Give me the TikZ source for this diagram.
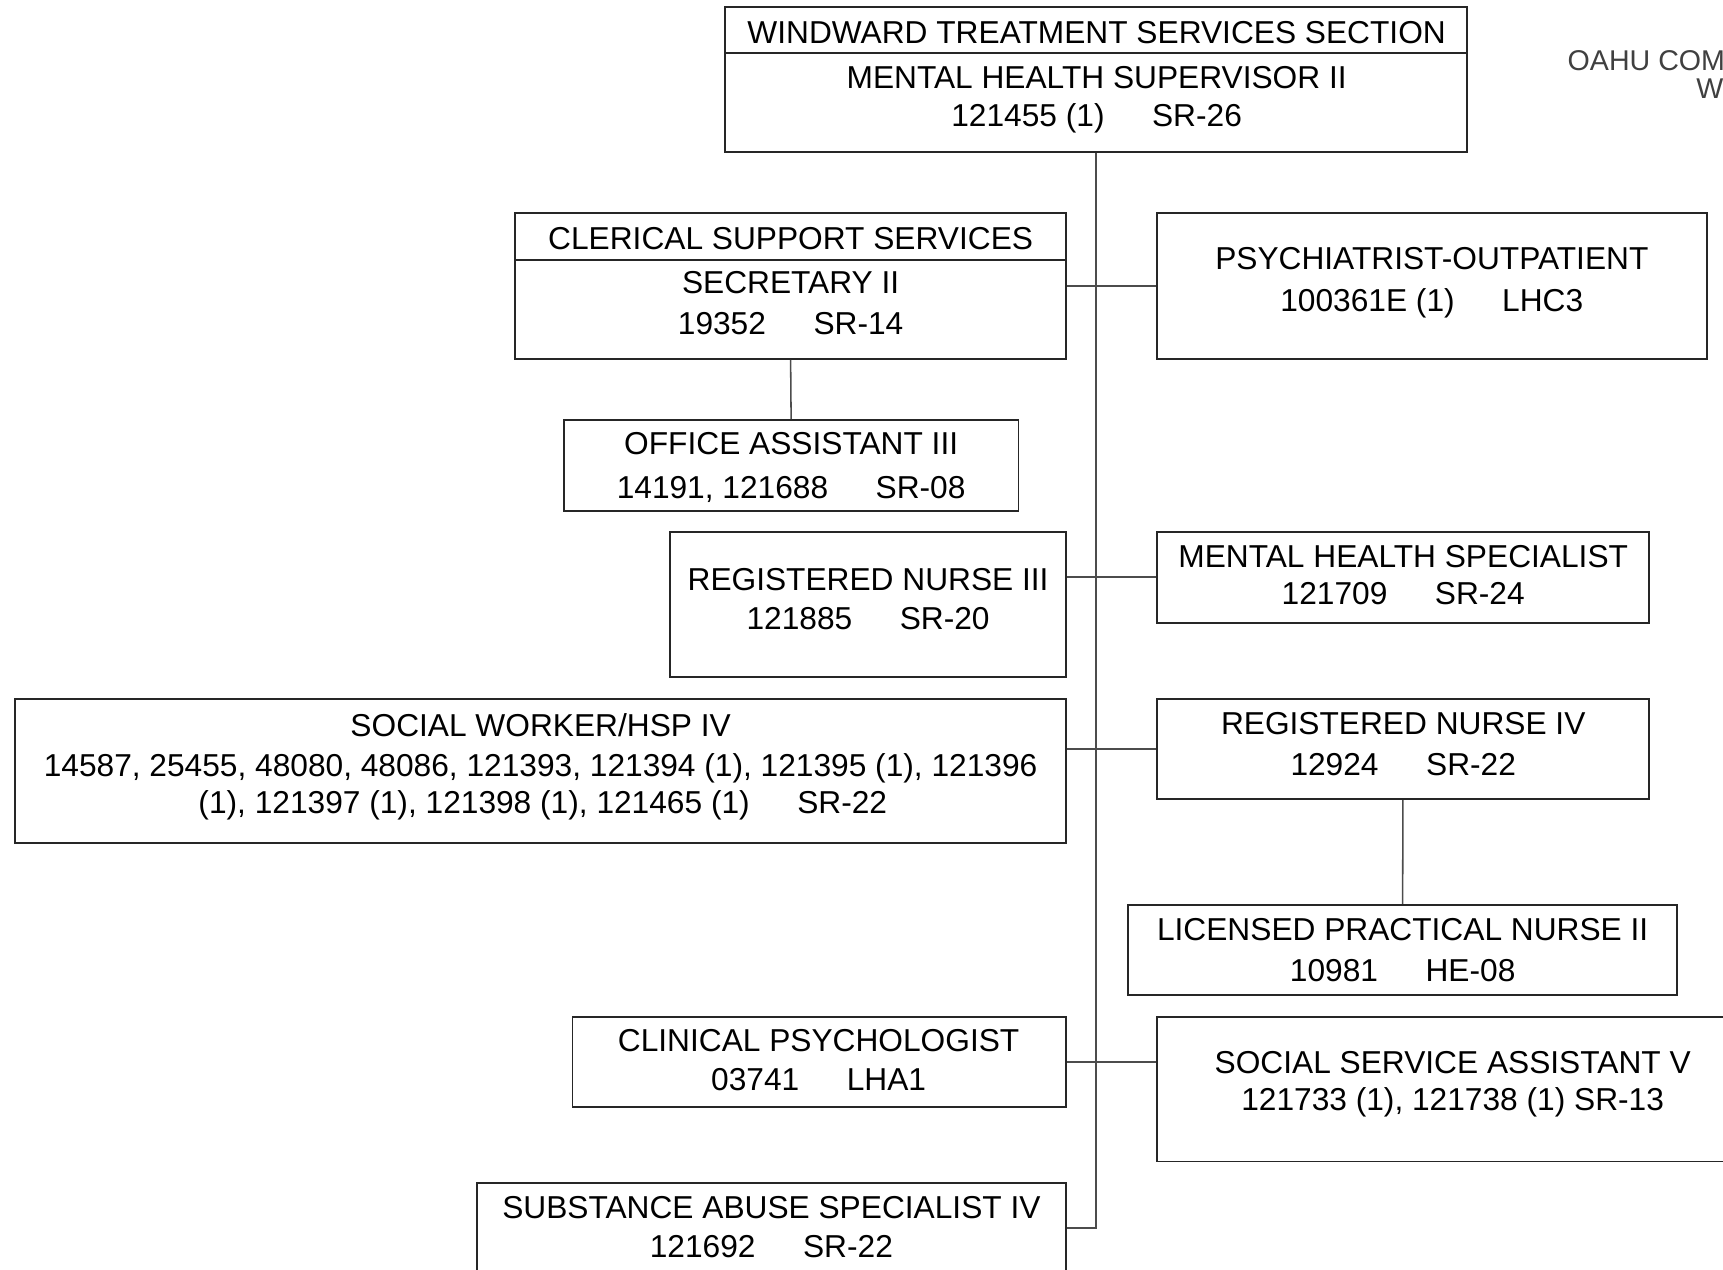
\documentclass[tikz,border=0pt]{standalone}
\usepackage{fontspec}
\setmainfont{Liberation Sans}
\usetikzlibrary{positioning}
\usetikzlibrary{fit}

\newcommand{\tabgap}{\hspace{1.5em}}

\begin{document}
\begin{tikzpicture}[x=0.01cm, y=-0.01cm,
box/.style={draw=black!85, line width=0.5pt, inner sep=0pt},
link/.style={draw=black!70, line width=0.4pt},
txt/.style={anchor=base, inner sep=0pt, font=\fontsize{8.2}{9.8}\selectfont},
head/.style={anchor=base west, inner sep=0pt, text=black!75, font=\fontsize{7.4}{9}\selectfont}]

\useasboundingbox (0,0) rectangle (1568,1155.7);
\clip (0,0) rectangle (1568,1155.7);

\node[box, fit={(660,6.7) (1335,138.6)}] (sup) {};
\node[box, fit={(469,194) (970,326.7)}] (cler) {};
\node[box, fit={(1052.5,194) (1553.3,326.7)}] (psych) {};
\node[box, fit={(513,382.2) (926.9,464.7)}] (office) {};
\node[box, fit={(609.7,484.4) (970.3,615.8)}] (rnthree) {};
\node[box, fit={(1052.5,483.8) (1501,566.6)}] (mhs) {};
\node[box, fit={(14,636) (970.3,767.4)}] (sw) {};
\node[box, fit={(1052.5,636.1) (1501,727.3)}] (rnfour) {};
\node[box, fit={(1026.4,823.5) (1526.5,905.4)}] (lpn) {};
\node[box, fit={(521,925.1) (970,1007.6)}] (clin) {};
\node[box, fit={(1052.5,925.1) (1592,1057)}] (ssa) {};
\node[box, fit={(434,1076.8) (970,1200)}] (sub) {};

\coordinate (supdiv) at (0,48.5);
\coordinate (clerdiv) at (0,236.9);
\draw[box] (sup.west |- supdiv) -- (sup.east |- supdiv);
\draw[box] (cler.west |- clerdiv) -- (cler.east |- clerdiv);

\coordinate (spine) at (997.5,1117.7);
\draw[link] (sup.south) -- (spine) -- (spine -| sub.east);
\draw[link] (cler.east) -- (psych.west);
\draw[link] (cler.south) -- (office.north);
\draw[link] (mhs.west) -- (mhs.west -| rnthree.east);
\draw[link] (rnfour.west) -- (rnfour.west -| sw.east);
\draw[link] (rnfour.south) -- (lpn.north);
\draw[link] (clin.east) -- (clin.east -| ssa.west);

\node[txt] (sup-t) at (998,40) {WINDWARD TREATMENT SERVICES SECTION};
\node[txt] (sup-a) at (998,80.5) {MENTAL HEALTH SUPERVISOR II};
\node[txt] (sup-b) at (998,115) {121455 (1)\tabgap SR-26};

\node[txt] (cler-t) at (719.5,227.5) {CLERICAL SUPPORT SERVICES};
\node[txt] (cler-a) at (719.5,267) {SECRETARY II};
\node[txt] (cler-b) at (719.5,304) {19352\tabgap SR-14};

\node[txt] (office-a) at (720,414) {OFFICE ASSISTANT III};
\node[txt] (office-b) at (720,453.5) {14191, 121688\tabgap SR-08};

\node[txt] (psych-a) at (1303,245.5) {PSYCHIATRIST-OUTPATIENT};
\node[txt] (psych-b) at (1303,283.5) {100361E (1)\tabgap LHC3};

\node[txt] (rnthree-a) at (790,537) {REGISTERED NURSE III};
\node[txt] (rnthree-b) at (790,573) {121885\tabgap SR-20};

\node[txt] (mhs-a) at (1277,516) {MENTAL HEALTH SPECIALIST};
\node[txt] (mhs-b) at (1277,550) {121709\tabgap SR-24};

\node[txt] (sw-a) at (492,670) {SOCIAL WORKER/HSP IV};
\node[txt] (sw-b) at (492,707) {14587, 25455, 48080, 48086, 121393, 121394 (1), 121395 (1), 121396};
\node[txt] (sw-c) at (494,740) {(1), 121397 (1), 121398 (1), 121465 (1)\tabgap SR-22};

\node[txt] (rnfour-a) at (1277,668) {REGISTERED NURSE IV};
\node[txt] (rnfour-b) at (1277,706) {12924\tabgap SR-22};

\node[txt] (lpn-a) at (1276.5,855.5) {LICENSED PRACTICAL NURSE II};
\node[txt] (lpn-b) at (1276.5,893.5) {10981\tabgap HE-08};

\node[txt] (clin-a) at (745,956.5) {CLINICAL PSYCHOLOGIST};
\node[txt] (clin-b) at (745,992) {03741\tabgap LHA1};

\node[txt] (ssa-a) at (1322,976.5) {SOCIAL SERVICE ASSISTANT V};
\node[txt] (ssa-b) at (1322,1011) {121733 (1), 121738 (1) SR-13};

\node[txt] (sub-a) at (702,1109) {SUBSTANCE ABUSE SPECIALIST IV};
\node[txt] (sub-b) at (702,1144) {121692\tabgap SR-22};

\node[head] (dept) at (1426,64) {OAHU COM};
\node[head] (branch) at (1543,89.7) {W};

\end{tikzpicture}
\end{document}
